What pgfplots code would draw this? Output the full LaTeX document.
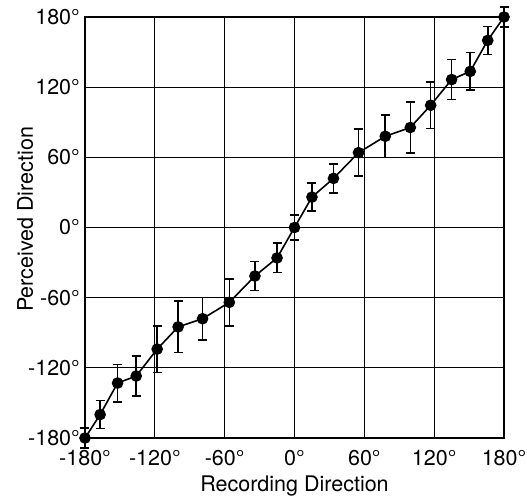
\documentclass[border=0pt]{standalone}
\usepackage{fontspec}
\setmainfont{TeX Gyre Heros}
\usepackage{pgfplots}
\pgfplotsset{compat=1.18}
\usepackage{pgfplotstable}
\pgfplotstableread{
x y e
-180 -180 8.5
-167 -160 12
-152 -133 16
-136 -127 17
-118 -104 20
-100 -85 22
-79 -78 18
-56 -64 20
-34 -41.5 12.5
-15 -26 12.5
0 0 10.5
15 26 12
33.5 42 12.5
55 64 20
78 78 18
99.5 85.5 22
117 104.5 20
135 126.5 17
151 133.5 16
166 160 12
180 180 8.5
}\datatable
\begin{document}
\begin{tikzpicture}
\begin{axis}[
  scale only axis,
  width=419pt, height=421pt,
  xmin=-180, xmax=180, ymin=-180, ymax=180,
  clip=false,
  axis line style={line width=1.6pt},
  xtick={-180,-120,-60,0,60,120,180},
  ytick={-180,-120,-60,0,60,120,180},
  xticklabels={-180°,-120°,-60°,0°,60°,120°,180°},
  yticklabels={-180°,-120°,-60°,0°,60°,120°,180°},
  major tick length=0pt,
  grid=major,
  major grid style={black, line width=0.7pt},
  font=\fontsize{21.5}{25}\selectfont,
  xticklabel style={anchor=north, inner sep=0pt, yshift=-12pt},
  yticklabel style={anchor=east, inner sep=0pt, xshift=-5pt},
  xlabel={Recording Direction},
  ylabel={Perceived Direction},
  every axis x label/.style={at={([yshift=-53pt]axis description cs:0.5,0)}, anchor=base, inner sep=0pt},
  every axis y label/.style={at={([xshift=-52pt,yshift=8pt]axis description cs:0,0.5)}, rotate=90, anchor=base, inner sep=0pt},
]
\addplot[black, line width=1.6pt, mark=*, mark size=5pt,
  error bars/.cd, y dir=both, y explicit,
  error bar style={black, line width=1.6pt},
  error mark options={rotate=90, mark size=4.5pt, line width=1.6pt, black}]
  table[x=x, y=y, y error=e] {\datatable};
\end{axis}
\pgfresetboundingbox
\path[use as bounding box] (-85pt,-61pt) rectangle (442pt,438pt);
\end{tikzpicture}
\end{document}
